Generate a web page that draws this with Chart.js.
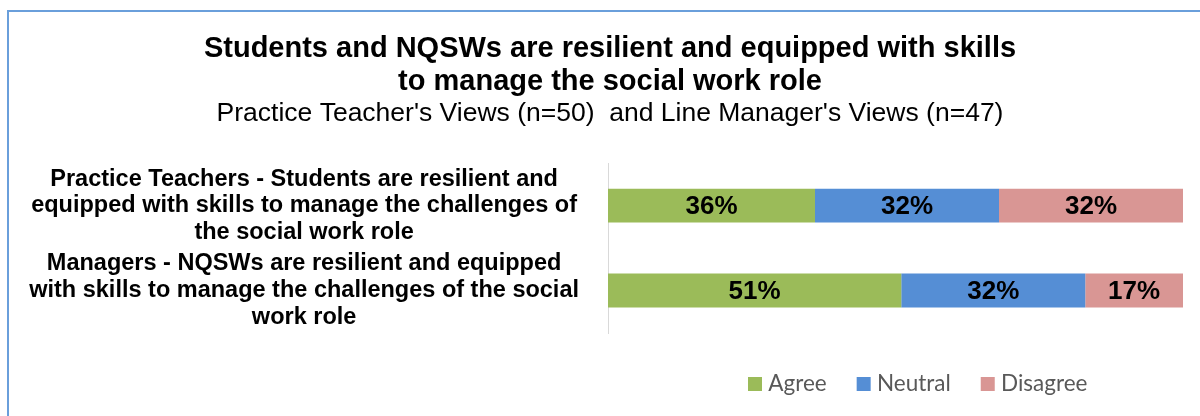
<!DOCTYPE html>
<html>
<head>
<meta charset="utf-8">
<script src="https://cdn.jsdelivr.net/npm/chart.js@4.4.1/dist/chart.umd.min.js"></script>
<style>
  html, body { margin: 0; padding: 0; background: #fff; overflow: hidden; }
  #wrap { position: relative; width: 1200px; height: 416px; overflow: hidden; }
  #frame {
    position: absolute; left: 7px; top: 10px; width: 1400px; height: 600px;
    border-left: 2px solid #6a9fdb; border-top: 2px solid #6a9fdb;
    box-sizing: border-box;
  }
  #chart { position: absolute; left: 0; top: 0; }
</style>
</head>
<body>
<div id="wrap">
  <div id="frame"></div>
  <canvas id="chart" width="1200" height="416"></canvas>
</div>
<script>
// Survey question labels (one line per array entry)
const categories = [
  ['Practice Teachers - Students are resilient and', 'equipped with skills to manage the challenges of', 'the social work role'],
  ['Managers - NQSWs are resilient and equipped', 'with skills to manage the challenges of the social', 'work role']
];
const seriesNames = ['Agree', 'Neutral', 'Disagree'];
const agree = [36, 51];
const neutral = [32, 32];
const disagree = [32, 17];
const seriesColors = ['#9bbb59', '#558ed5', '#d99694'];

const titleLines = ['Students and NQSWs are resilient and equipped with skills', 'to manage the social work role'];
const subtitleText = "Practice Teacher's Views (n=50)  and Line Manager's Views (n=47)";

const FONT = "'Liberation Sans', Arial, sans-serif";

// Header is centred slightly right of the canvas middle; legend sits lower right
const HEADER_CENTER_X = 610;
const LEGEND_ITEM_X = 753;
const LEGEND_CENTER_Y = 384;

const boxPlacer = {
  id: 'boxPlacer',
  afterLayout(chart) {
    chart.boxes.forEach(b => {
      if (b.position === 'top' && b.options && b.options.text !== undefined) {
        const dx = HEADER_CENTER_X - (b.left + b.right) / 2;
        b.left += dx; b.right += dx;
      }
    });
    const lg = chart.legend;
    if (!lg) return;
    const p = lg.options.labels.padding;
    const itemH = Math.max(lg.options.labels.font.size, lg.options.labels.boxHeight);
    const dx = LEGEND_ITEM_X - (lg.left + p);
    lg.left += dx; lg.right += dx;
    const dy = LEGEND_CENTER_Y - (lg.top + p + itemH / 2);
    lg.top += dy; lg.bottom += dy;
  }
};

// Percentage written in the middle of each bar segment
const segmentLabels = {
  id: 'segmentLabels',
  afterDatasetsDraw(chart) {
    const ctx = chart.ctx;
    ctx.save();
    ctx.font = 'bold 26px ' + FONT;
    ctx.fillStyle = '#000';
    ctx.textAlign = 'center';
    ctx.textBaseline = 'middle';
    chart.data.datasets.forEach((ds, di) => {
      const meta = chart.getDatasetMeta(di);
      meta.data.forEach((bar, i) => {
        const c = bar.getCenterPoint();
        ctx.fillText(ds.data[i] + '%', c.x, c.y + 1);
      });
    });
    ctx.restore();
  }
};

new Chart(document.getElementById('chart'), {
  type: 'bar',
  data: {
    labels: categories,
    datasets: [agree, neutral, disagree].map((vals, k) => ({
      label: seriesNames[k],
      data: vals,
      backgroundColor: seriesColors[k],
      borderColor: seriesColors[k],
      borderWidth: 0,
      categoryPercentage: 1,
      barPercentage: 0.4
    }))
  },
  options: {
    indexAxis: 'y',
    responsive: false,
    animation: false,
    devicePixelRatio: 1,
    layout: { padding: { left: 8, right: 17, top: 0, bottom: 15.5 } },
    scales: {
      x: { stacked: true, min: 0, max: 100, display: false },
      y: {
        stacked: true,
        grid: { display: false, drawTicks: false },
        border: { display: true, color: '#d9d9d9', width: 1 },
        ticks: {
          autoSkip: false,
          crossAlign: 'center',
          padding: 29,
          color: '#000',
          font: { family: FONT, size: 23.5, weight: 'bold', lineHeight: 1.13 }
        },
        afterFit(scale) { scale.width = 600; }
      }
    },
    plugins: {
      title: {
        display: true,
        text: titleLines,
        color: '#000',
        font: { family: FONT, size: 29, weight: 'bold', lineHeight: 1.15 },
        padding: { top: 32, bottom: 0 }
      },
      subtitle: {
        display: true,
        text: subtitleText,
        color: '#000',
        font: { family: FONT, size: 26.5, weight: 'normal', lineHeight: 1.15 },
        padding: { top: 0, bottom: 34 }
      },
      legend: {
        display: true,
        position: 'bottom',
        align: 'start',
        labels: {
          usePointStyle: true,
          pointStyle: 'rect',
          boxWidth: 4,
          boxHeight: 14,
          padding: 35,
          color: '#595959',
          font: { family: "Lato, 'Open Sans', sans-serif", size: 22.5 }
        }
      },
      tooltip: { enabled: false }
    }
  },
  plugins: [boxPlacer, segmentLabels]
});
</script>
</body>
</html>
